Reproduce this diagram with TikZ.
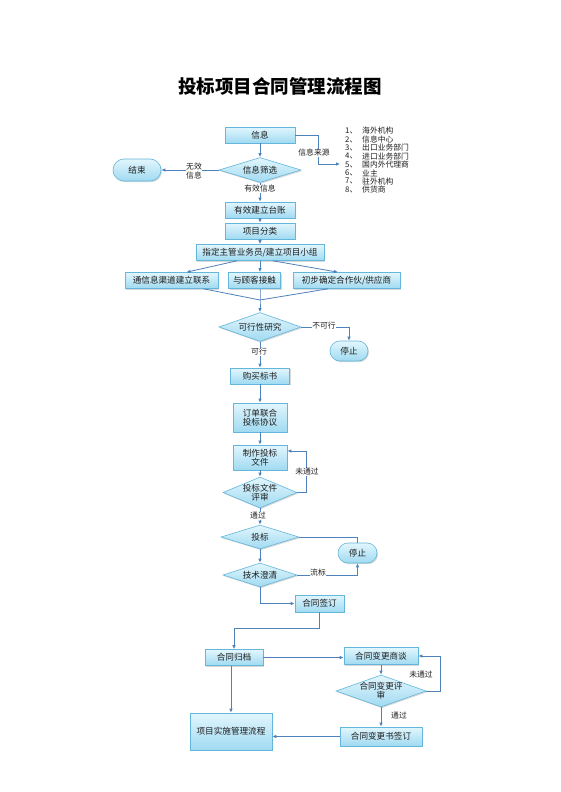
\documentclass[tikz,border=0pt]{standalone}
\usepackage{fontspec}
\setmainfont{Noto Sans CJK SC}
\usetikzlibrary{shapes.geometric,arrows.meta,shadows}
\definecolor{bord}{RGB}{100,182,218}
\definecolor{topc}{RGB}{226,246,253}
\definecolor{botc}{RGB}{160,218,241}
\definecolor{lnc}{RGB}{79,129,189}
\definecolor{txt}{RGB}{30,30,30}
\tikzset{
 base/.style={draw=bord, line width=0.6pt, top color=topc, bottom color=botc,
   drop shadow={shadow xshift=1pt, shadow yshift=-1.2pt, opacity=0.3},
   inner sep=0pt, text=txt, font=\fontsize{8.6}{9}\selectfont, align=center},
 box/.style={base, rectangle},
 dia/.style={base, diamond},
 stad/.style={base, rectangle, rounded corners=10pt},
 dtxt/.style={text=txt, font=\fontsize{8.6}{9}\selectfont, align=center, inner sep=0pt},
 arr/.style={draw=lnc, line width=0.8pt, -{Latex[length=4pt,width=3.5pt]}},
 ln/.style={draw=lnc, line width=0.8pt},
 lab/.style={font=\fontsize{7.8}{8.5}\selectfont, text=txt, fill=white, inner sep=0.5pt, align=center},
 lst/.style={font=\fontsize{7.8}{8}\selectfont, text=txt, anchor=west, inner sep=0pt},
}
\begin{document}
\begin{tikzpicture}[x=1pt,y=-1pt]
\useasboundingbox[fill=white] (0,0) rectangle (560,792);
% title
\node[font=\fontsize{18.5}{20}\selectfont\bfseries, text=black] (title) at (280,86) {投标项目合同管理流程图};

% top part
\node[box, minimum width=70pt, minimum height=16pt] (xx) at (260,135) {信息};
\node[dia, minimum width=82pt, minimum height=25pt] (sx) at (260,170) {};
\node[dtxt] (sxt) at (sx) {信息筛选};
\node[stad, minimum width=48pt, minimum height=22pt, rounded corners=11pt] (js0) at (137,170) {结束};
\draw[arr] (sx.west) -- (js0.east);
\node[lab, font=\fontsize{7.8}{8.5}\selectfont] (wx) at (194,171) {无效\\信息};
\coordinate (srcend) at (340,164);
\draw[arr] (xx.east) -- ++(23,0) |- (srcend);
\node[lab] (xily) at (314,153) {信息来源};
\draw[arr] (xx.south) -- (sx.north);

% list
\foreach \n/\t [count=\i from 0] in {1/海外机构,2/信息中心,3/出口业务部门,4/进口业务部门,5/国内外代理商,6/业主,7/驻外机构,8/供货商}{
  \node[lst] (num\n) at (345,131+8.4*\i) {\n、};
  \node[lst] (itm\n) at (362,131+8.4*\i) {\t};
}

\node[box, minimum width=70pt, minimum height=16pt] (tz) at (260,210) {有效建立台账};
\draw[arr] (sx.south) -- (tz.north);
\node[lab] (yxxx) at (260,189) {有效信息};
\node[box, minimum width=70pt, minimum height=16pt] (fl) at (260,231) {项目分类};
\draw[arr] (tz.south) -- (fl.north);
\node[box, minimum width=128pt, minimum height=16pt] (zd) at (260,252.5) {指定主管业务员/建立项目小组};
\draw[arr] (fl.south) -- (zd.north);

\node[box, minimum width=93pt, minimum height=16pt] (tx) at (171.5,280.5) {通信息渠道建立联系};
\node[box, minimum width=52pt, minimum height=16pt] (gk) at (254.5,280.5) {与顾客接触};
\node[box, minimum width=107pt, minimum height=16pt] (cb) at (346.5,280.5) {初步确定合作伙/供应商};
\draw[arr] ([xshift=-23pt]zd.south) -- ([xshift=15pt]tx.north);
\draw[arr] (zd.south) -- ([xshift=5.5pt]gk.north);
\draw[arr] ([xshift=13pt]zd.south) -- ([xshift=-8.5pt]cb.north);

\coordinate (m) at (260,300);
\node[dia, minimum width=82pt, minimum height=29pt] (kx) at (260,327) {};
\node[dtxt] (kxt) at (kx) {可行性研究};
\draw[ln] ([xshift=32pt]tx.south) -- (m);
\draw[ln] ([xshift=-18.5pt]cb.south) -- (m);
\draw[arr] ([xshift=5.5pt]gk.south) -- (m) -- (kx.north);

\node[stad, minimum width=38pt, minimum height=20pt] (tz1) at (349,351) {停止};
\draw[arr] (kx.east) -| (tz1.north);
\node[lab] (bkx) at (324,326) {不可行};

\node[box, minimum width=59pt, minimum height=16pt] (gm) at (260,376) {购买标书};
\draw[arr] (kx.south) -- (gm.north);
\node[lab] (kxl) at (259,352) {可行};

\node[box, minimum width=54pt, minimum height=29pt, font=\fontsize{8.6}{8.8}\selectfont] (dd) at (260,417.5) {订单联合\\投标协议};
\draw[arr] (gm.south) -- (dd.north);
\node[box, minimum width=54pt, minimum height=25pt, font=\fontsize{8.6}{8.8}\selectfont] (zz) at (260,457.5) {制作投标\\文件};
\draw[arr] (dd.south) -- (zz.north);
\node[dia, minimum width=74pt, minimum height=31pt] (ps) at (260,492.5) {};
\node[dtxt, font=\fontsize{8.6}{8.8}\selectfont] (pst) at (ps) {投标文件\\评审};
\draw[arr] (zz.south) -- (ps.north);
\draw[arr] (ps.east) -- ++(9,0) |- ([yshift=6.5pt]zz.east);
\node[lab] (wtg1) at (307,472) {未通过};

\node[dia, minimum width=78pt, minimum height=24pt] (tb) at (260,537) {};
\node[dtxt] (tbt) at (tb) {投标};
\draw[arr] (ps.south) -- (tb.north);
\node[lab] (tg1) at (258,516) {通过};

\node[dia, minimum width=74pt, minimum height=24pt] (jc) at (260,575) {};
\node[dtxt] (jct) at (jc) {技术澄清};
\draw[arr] (tb.south) -- (jc.north);

\node[stad, minimum width=39pt, minimum height=20pt] (tz2) at (357.5,553) {停止};
\draw[ln] (tb.east) -| (tz2.north);
\draw[arr] (jc.east) -| (tz2.south);
\node[lab] (lb) at (318,573) {流标};

\node[box, minimum width=49pt, minimum height=17pt] (qd) at (319.5,603.5) {合同签订};
\draw[arr] (jc.south) |- (qd.west);

\node[box, minimum width=58pt, minimum height=16pt] (gd) at (234,657.5) {合同归档};
\draw[arr] (qd.south) -- ++(0,16) -| (gd.north);

\node[box, minimum width=74pt, minimum height=17pt] (st) at (381,656) {合同变更商谈};
\draw[arr] (gd.east) -- (gd.east -| st.west);
\node[dia, minimum width=90pt, minimum height=32pt] (ps2) at (381,691) {};
\node[dtxt, font=\fontsize{8.6}{8.8}\selectfont] (ps2t) at (ps2) {合同变更评\\审};
\draw[arr] (st.south) -- (ps2.north);
\draw[arr] (ps2.east) -- ++(14,0) |- (st.east);
\node[lab, fill=none] (wtg2) at (421,675) {未通过};

\node[box, minimum width=82pt, minimum height=19pt] (qs) at (381,736.5) {合同变更书签订};
\draw[arr] (ps2.south) -- (qs.north);
\node[lab, fill=none] (tg2) at (399,715) {通过};

\node[box, minimum width=82pt, minimum height=37pt] (ss) at (231,731.5) {项目实施管理流程};
\draw[arr] (qs.west) -- (qs.west -| ss.east);
\draw[arr] (gd.south -| ss.north) -- (ss.north);
\end{tikzpicture}
\end{document}
